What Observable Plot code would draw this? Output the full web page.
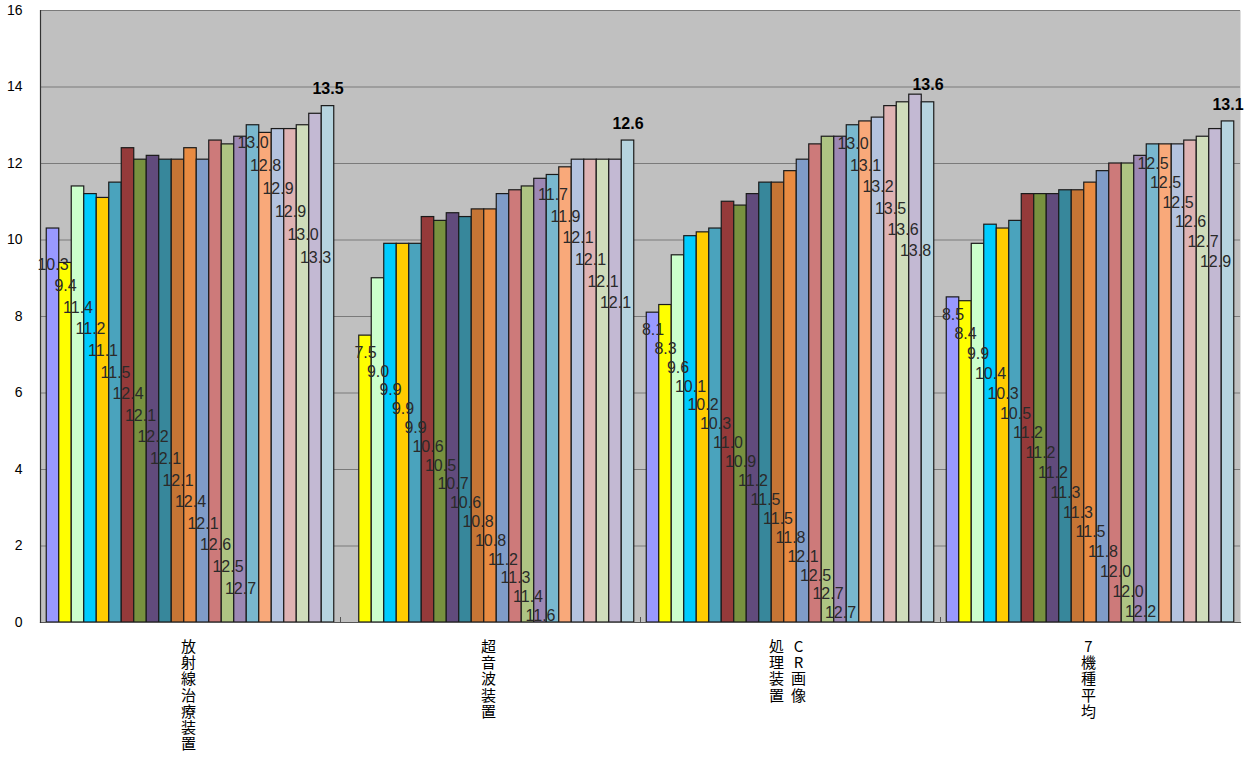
<!DOCTYPE html>
<html><head><meta charset="utf-8">
<script src="https://cdn.jsdelivr.net/npm/d3@7"></script>
<script src="https://cdn.jsdelivr.net/npm/@observablehq/plot@0.6"></script>
<style>body{margin:0;background:#fff;} #chart svg{display:block;}</style>
</head><body><div id="chart"></div>
<script>
// ---- data ----
const groups = ["放射線治療装置", "超音波装置", "CR画像処理装置", "7機種平均"];
const groupLabelColumns = [["放射線治療装置"], ["超音波装置"], ["CR画像", "処理装置"], ["7機種平均"]];
const seriesIds = ["s01","s02","s03","s04","s05","s06","s07","s08","s09","s10","s11","s12",
                   "s13","s14","s15","s16","s17","s18","s19","s20","s21","s22","s23"];
const radiotherapy = [10.3,9.4,11.4,11.2,11.1,11.5,12.4,12.1,12.2,12.1,12.1,12.4,12.1,12.6,12.5,12.7,13.0,12.8,12.9,12.9,13.0,13.3,13.5];
const ultrasound   = [null,7.5,9.0,9.9,9.9,9.9,10.6,10.5,10.7,10.6,10.8,10.8,11.2,11.3,11.4,11.6,11.7,11.9,12.1,12.1,12.1,12.1,12.6];
const crProcessing = [8.1,8.3,9.6,10.1,10.2,10.3,11.0,10.9,11.2,11.5,11.5,11.8,12.1,12.5,12.7,12.7,13.0,13.1,13.2,13.5,13.6,13.8,13.6];
const average7     = [8.5,8.4,9.9,10.4,10.3,10.5,11.2,11.2,11.2,11.3,11.3,11.5,11.8,12.0,12.0,12.2,12.5,12.5,12.5,12.6,12.7,12.9,13.1];
const yTicks = [0,2,4,6,8,10,12,14,16];

// ---- styles ----
const colors = ["#9999ff","#ffff00","#ccffcc","#00ccff","#ffcc00","#4aa3bd","#953a3a","#78913f",
                "#614b7c","#37879b","#c57535","#e98b41","#7f9cc8","#cd7a7a","#aec483","#9d88b4",
                "#79b8cf","#f9a97a","#b4c3de","#dfb3b3","#cfdcbb","#c3b9d3","#b6d4df"];
// staggered data-label layout of the reference: [run1, run2] {offset px below run-start bar top, step px}
const labelLayout = [
  [{off:36, step:21.6}, {off:18, step:23}],
  [{off:17, step:18.8}, {off:20, step:21.6}],
  [{off:17, step:18.9}, {off:19, step:21.4}],
  [{off:17, step:19.8}, {off:19, step:19.6}]
];
const W = 1248, H = 760, mt = 10, mb = 138, ml = 40, mr = 8;
const ppu = (H - mt - mb) / (yTicks[yTicks.length-1] - yTicks[0]);

const valuesByGroup = [radiotherapy, ultrasound, crProcessing, average7];
const key = (gi, si) => `${gi}|${seriesIds[si]}`;
// x domain: every group's series slots, with one spacer slot between groups
const xDomain = [];
const gapKeys = [];
groups.forEach((g, gi) => {
  if (gi > 0) { xDomain.push(`gap${gi}`); gapKeys.push(`gap${gi}`); }
  seriesIds.forEach((s, si) => xDomain.push(key(gi, si)));
});
const midIndex = Math.floor(seriesIds.length / 2);

const rows = [], labels = [], tops = [];
groups.forEach((g, gi) => {
  const vals = valuesByGroup[gi];
  const first = vals.findIndex(v => v != null);
  vals.forEach((v, i) => {
    if (v == null) return;
    const row = {x: key(gi, i), s: seriesIds[i], v, text: v.toFixed(1)};
    rows.push(row);
    if (i === vals.length - 1) { tops.push(row); return; }
    const run2 = i >= 16;
    const start = run2 ? 16 : first;
    const L = labelLayout[gi][run2 ? 1 : 0];
    labels.push({...row, y: vals[start] - (L.off + (i - start) * L.step) / ppu});
  });
});

// vertical (tategaki) category labels: one character per line, columns right to left
const catCols = [];
groupLabelColumns.forEach((cols, gi) => {
  cols.forEach((c, ci) => {
    const pos = cols.length === 1 ? "c" : (ci === 0 ? "r" : "l");
    catCols.push({x: key(gi, midIndex), text: Array.from(c).join("\n"), pos});
  });
});
const catOpts = {x: "x", text: "text", frameAnchor: "bottom", lineAnchor: "top", dy: 18,
  fontSize: 15, lineHeight: 1.08, fontFamily: "'Noto Sans CJK JP', sans-serif", fill: "#000"};

const chart = Plot.plot({
  width: W, height: H, marginTop: mt, marginBottom: mb, marginLeft: ml, marginRight: mr,
  style: {background: "#fff"},
  x: {domain: xDomain, paddingInner: 0, paddingOuter: 0.5, round: false, axis: null},
  y: {domain: [0, 16], axis: null},
  color: {domain: seriesIds, range: colors},
  marks: [
    Plot.frame({fill: "#c0c0c0"}),
    Plot.ruleY(yTicks.filter(t => t > 0), {stroke: "#7a7a7a", strokeWidth: 1.2}),
    Plot.barY(rows, {x: "x", y: "v", fill: "s", stroke: "#1a1a1a", strokeWidth: 1.2}),
    Plot.text(labels, {x: "x", y: "y", text: "text", fontSize: 16, ariaLabel: "data-label",
      fontFamily: "'Liberation Sans', Arial, sans-serif", fill: "#2a2a2a"}),
    Plot.text(tops, {x: "x", y: "v", text: "text", dy: -17, fontSize: 16, fontWeight: "bold",
      fontFamily: "'Liberation Sans', Arial, sans-serif", fill: "#000"}),
    Plot.ruleX(gapKeys, {x: d => d, y1: 0, y2: 5 / ppu, stroke: "#555"}),
    Plot.frame({anchor: "bottom", stroke: "#555", strokeWidth: 1.2}),
    Plot.frame({anchor: "left", stroke: "#333", strokeWidth: 1.2}),
    Plot.axisY(yTicks, {tickSize: 0, tickPadding: 18, fontSize: 14,
      fontFamily: "'Liberation Sans', Arial, sans-serif", fill: "#000"}),
    Plot.text(catCols.filter(d => d.pos === "c"), {...catOpts, dx: -2}),
    Plot.text(catCols.filter(d => d.pos === "r"), {...catOpts, dx: 8}),
    Plot.text(catCols.filter(d => d.pos === "l"), {...catOpts, dx: -14})
  ]
});
// condense the data labels horizontally like the reference's narrow font
d3.select(chart).selectAll("g[aria-label='data-label'] text").each(function () {
  const t = d3.select(this);
  const x = +t.attr("x") || 0, y = +t.attr("y") || 0;
  const tr = t.attr("transform") || "";
  t.attr("x", null).attr("y", null)
   .attr("transform", `${tr} translate(${x},${y}) scale(0.82,1)`);
});
document.getElementById("chart").append(chart);
</script>
</body></html>
